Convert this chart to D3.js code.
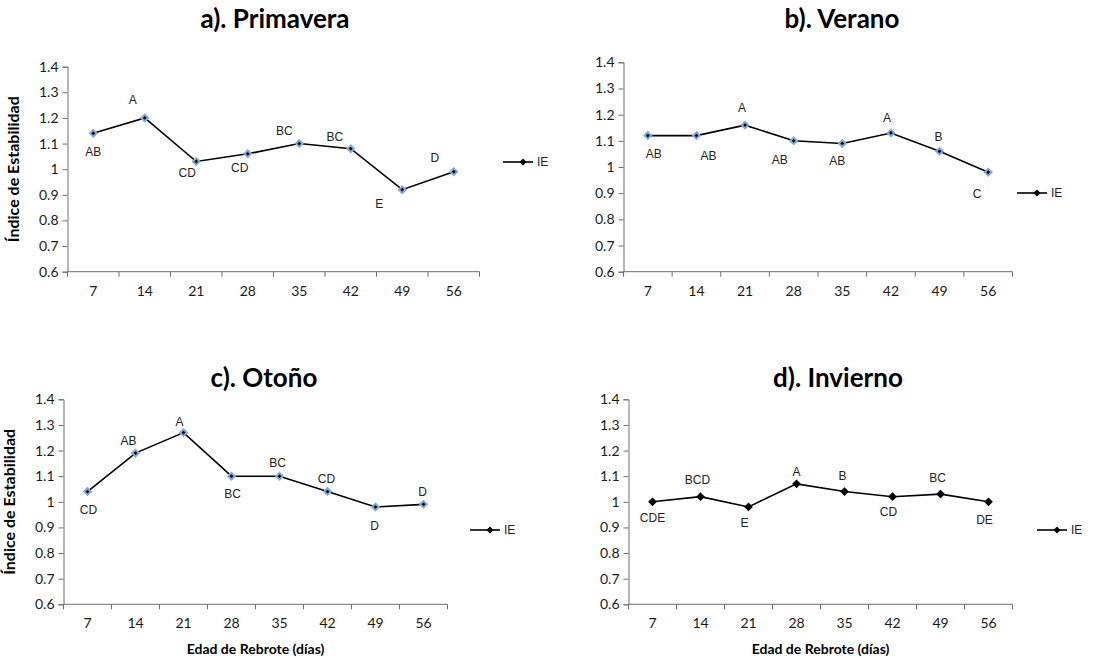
<!DOCTYPE html>
<html>
<head>
<meta charset="utf-8">
<script src="https://cdn.jsdelivr.net/npm/d3@7"></script>
<style>
  body { margin: 0; background: #fff; }
  svg { display: block; }
  .tick text { font-family: Lato, "Open Sans", sans-serif; font-size: 14px; fill: #1a1a1a; }
  .ptlab { font-family: "Liberation Sans", Arial, sans-serif; font-size: 12px; fill: #222; }
  .ttl { font-family: Lato, "Open Sans", sans-serif; font-weight: bold; }
</style>
</head>
<body>
<svg id="chart" width="1119" height="658"></svg>
<script>
// edad de rebrote (dias)
var days = ['7', '14', '21', '28', '35', '42', '49', '56'];
var yTicks = [0.6, 0.7, 0.8, 0.9, 1, 1.1, 1.2, 1.3, 1.4];

// indice de estabilidad por estacion
var primavera = [1.14, 1.20, 1.03, 1.06, 1.10, 1.08, 0.92, 0.99];
var verano    = [1.12, 1.12, 1.16, 1.10, 1.09, 1.13, 1.06, 0.98];
var otono     = [1.04, 1.19, 1.27, 1.10, 1.10, 1.04, 0.98, 0.99];
var invierno  = [1.00, 1.02, 0.98, 1.07, 1.04, 1.02, 1.03, 1.00];

// letras de significancia
var letPrimavera = ['AB', 'A', 'CD', 'CD', 'BC', 'BC', 'E', 'D'];
var letVerano    = ['AB', 'AB', 'A', 'AB', 'AB', 'A', 'B', 'C'];
var letOtono     = ['CD', 'AB', 'A', 'BC', 'BC', 'CD', 'D', 'D'];
var letInvierno  = ['CDE', 'BCD', 'E', 'A', 'B', 'CD', 'BC', 'DE'];

// desplazamiento de cada etiqueta respecto a su punto [dx, dy]
var offPrimavera = [[0,19],[-12,-18],[-9,11],[-8,14],[-15,-13],[-16,-12],[-23,14],[-19,-14]];
var offVerano    = [[6,18],[12,20],[-3,-17],[-14,19],[-5,18],[-4,-15],[-1,-14],[-11,22]];
var offOtono     = [[1,18],[-7,-12],[-4,-11],[1,18],[-2,-13],[-1,-13],[-1,19],[-1,-12]];
var offInvierno  = [[0,16],[-3,-17],[-4,16],[0,-12],[-2,-16],[-4,15],[-3,-16],[-4,18]];

var svg = d3.select('#chart');

var panels = [
  { title: 'a). Primavera', vals: primavera, lets: letPrimavera, offs: offPrimavera,
    x0: 67.5, x1: 479.5, y0: 66.7, y1: 271.7, tx: 275, ty: 28, yTitle: true, xTitle: false,
    halo: true, legX: 503, legY: 162 },
  { title: 'b). Verano', vals: verano, lets: letVerano, offs: offVerano,
    x0: 623.5, x1: 1012.5, y0: 62.3, y1: 271.7, tx: 842, ty: 28, yTitle: false, xTitle: false,
    halo: true, legX: 1017, legY: 193 },
  { title: 'c). Otoño', vals: otono, lets: letOtono, offs: offOtono,
    x0: 63.5, x1: 447.5, y0: 399.3, y1: 604.3, tx: 264, ty: 387, yTitle: true, xTitle: true,
    halo: true, legX: 470, legY: 530 },
  { title: 'd). Invierno', vals: invierno, lets: letInvierno, offs: offInvierno,
    x0: 628.5, x1: 1012.5, y0: 399.3, y1: 604.3, tx: 838, ty: 387, yTitle: false, xTitle: true,
    halo: false, legX: 1037, legY: 530 }
];

// rombo = cuadrado girado 45 grados
var diamond = d3.symbol().type(d3.symbolSquare);

panels.forEach(function(p){
  var g = svg.append('g');

  var x = d3.scaleBand().domain(days).range([p.x0, p.x1]);
  var y = d3.scaleLinear().domain([0.6, 1.4]).range([p.y1, p.y0]);

  g.append('text').attr('class', 'ttl')
    .attr('x', p.tx).attr('y', p.ty)
    .attr('text-anchor', 'middle')
    .style('font-size', '26px')
    .text(p.title);

  // eje y
  var ya = g.append('g').attr('transform', 'translate(' + p.x0 + ',0)')
    .call(d3.axisLeft(y).tickValues(yTicks).tickSize(5).tickPadding(4)
      .tickFormat(function(d){ return d3.format('')(+d.toFixed(1)); }));
  // eje x con marcas entre categorias
  var xa = g.append('g').attr('transform', 'translate(0,' + p.y1 + ')')
    .call(d3.axisBottom(x).tickSize(0).tickPadding(14));
  var bounds = d3.range(days.length + 1).map(function(i){ return p.x0 + i * x.step(); });
  xa.selectAll('line.sep').data(bounds).enter().append('line')
    .attr('class', 'sep')
    .attr('x1', function(d){ return d; }).attr('x2', function(d){ return d; })
    .attr('y1', 0).attr('y2', 5);

  [ya, xa].forEach(function(a){
    a.selectAll('path').attr('stroke', '#6e6e6e');
    a.selectAll('line').attr('stroke', '#6e6e6e');
  });
  xa.select('path').attr('d', 'M' + p.x0 + ',0H' + p.x1);

  if (p.yTitle) {
    g.append('text').attr('class', 'ttl')
      .attr('transform', 'translate(' + (p.x0 - 49) + ',' + ((p.y0 + p.y1) / 2) + ') rotate(-90)')
      .attr('text-anchor', 'middle')
      .style('font-size', '16px')
      .text('Índice de Estabilidad');
  }
  if (p.xTitle) {
    g.append('text').attr('class', 'ttl')
      .attr('x', (p.x0 + p.x1) / 2).attr('y', p.y1 + 50)
      .attr('text-anchor', 'middle')
      .style('font-size', '14px')
      .text('Edad de Rebrote (días)');
  }

  var cx = function(d, i){ return x(days[i]) + x.bandwidth() / 2; };

  g.append('path')
    .datum(p.vals)
    .attr('fill', 'none').attr('stroke', '#000').attr('stroke-width', 1.6)
    .attr('d', d3.line().x(cx).y(function(d){ return y(d); }));

  g.selectAll('path.mk').data(p.vals).enter().append('path')
    .attr('class', 'mk')
    .attr('transform', function(d, i){ return 'translate(' + cx(d, i) + ',' + y(d) + ') rotate(45)'; })
    .attr('d', diamond.size(p.halo ? 22 : 38))
    .attr('fill', '#000')
    .attr('stroke', p.halo ? '#82a9dc' : 'none')
    .attr('stroke-width', 2);

  g.selectAll('text.ptlab').data(p.vals).enter().append('text')
    .attr('class', 'ptlab')
    .attr('text-anchor', 'middle').attr('dominant-baseline', 'central')
    .attr('x', function(d, i){ return cx(d, i) + p.offs[i][0]; })
    .attr('y', function(d, i){ return y(d) + p.offs[i][1]; })
    .text(function(d, i){ return p.lets[i]; });

  // leyenda
  var lg = g.append('g').attr('transform', 'translate(' + p.legX + ',' + p.legY + ')');
  lg.append('line').attr('x1', 0).attr('x2', 30).attr('stroke', '#000').attr('stroke-width', 1.6);
  lg.append('path').attr('transform', 'translate(20,0) rotate(45)').attr('d', diamond.size(24)).attr('fill', '#000');
  lg.append('text').attr('x', 34).attr('dominant-baseline', 'central')
    .attr('class', 'ptlab').text('IE');
});
</script>
</body>
</html>
